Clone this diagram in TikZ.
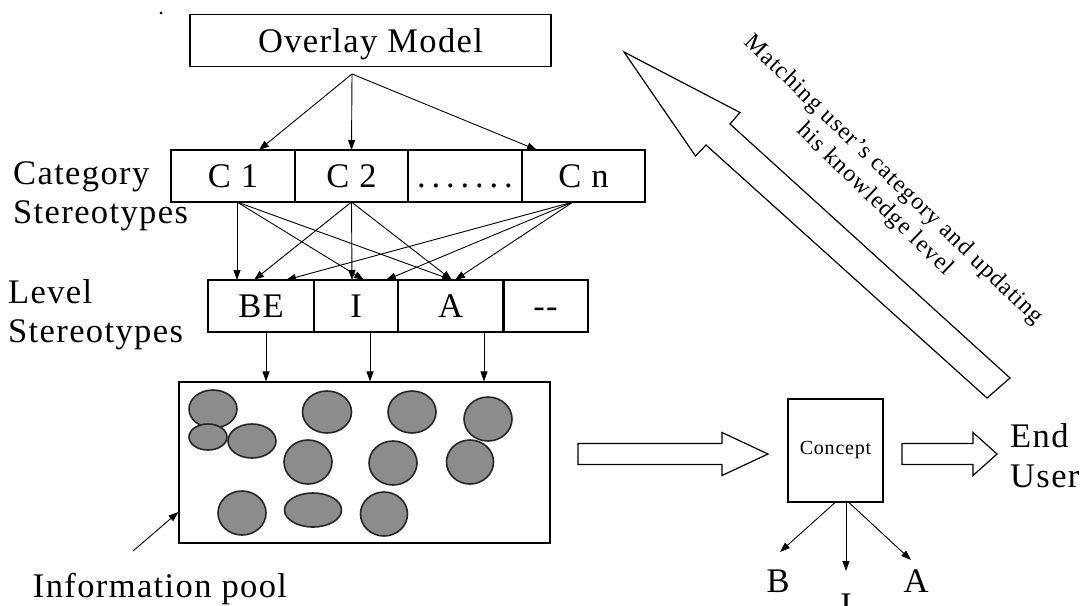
\documentclass[tikz,border=0pt]{standalone}
\usepackage{fontspec}
\setmainfont{Liberation Serif}
\newfontfamily\spaced[LetterSpace=4]{Liberation Serif}
\usetikzlibrary{arrows.meta}

\begin{document}
\begin{tikzpicture}[x=1pt,y=-1pt,
  lbl/.style={font=\spaced\fontsize{34.5}{40}\selectfont, inner sep=0pt},
  cell/.style={draw, line width=1.2pt, inner sep=0pt, outer sep=0pt,
    font=\spaced\fontsize{34.5}{40}\selectfont, text height=23pt, text depth=0pt,
    minimum height=52pt},
  arr/.style={line width=0.9pt, -{Triangle[length=10pt,width=7pt]}},
  blob/.style={draw=black!85, line width=1.6pt, fill=black!45},
  hollow/.style={draw, line width=1.2pt, fill=white, line join=miter},
]
\useasboundingbox (0,0) rectangle (1089,605);

% stray mark at the top
\fill (161,13) circle (1.5pt);

% overlay model and category stereotypes
\node[cell, minimum width=361pt] (ovl) at (370.5,40.5) {Overlay Model};
\node[cell, minimum width=124pt] (c1) at (233,176) {C 1};
\node[cell, minimum width=113pt] (c2) at (351.5,176) {C 2};
\node[cell, minimum width=114pt] (cd) at (465,176) {{\addfontfeature{LetterSpace=17}.......}};
\node[cell, minimum width=123pt] (cn) at (583.5,176) {C n};

% level stereotypes
\node[cell, minimum width=106pt] (be) at (261,306) {BE};
\node[cell, minimum width=84pt] (li) at (356,306) {I};
\node[cell, minimum width=105pt] (la) at (450.5,306) {A};
\node[cell, minimum width=85pt] (ld) at (545.5,306) {-{}-};
\draw[line width=3pt] (la.north east) -- (la.south east);

% side labels
\node[lbl, anchor=base west] (catl) at (13,184) {Category};
\node[lbl, anchor=base west] (stl1) at (13,223) {Stereotypes};
\node[lbl, anchor=base west] (lvl) at (8,303) {Level};
\node[lbl, anchor=base west] (stl2) at (8,342) {Stereotypes};

% information pool
\node[draw, line width=1.2pt, minimum width=371pt, minimum height=161pt, inner sep=0pt] (pool) at (364.5,462.5) {};
\draw[blob] (213,409) ellipse [x radius=24pt, y radius=19pt];
\draw[blob] (208,437) ellipse [x radius=19pt, y radius=13pt];
\draw[blob] (252,441) ellipse [x radius=24pt, y radius=17pt];
\draw[blob] (327,412) ellipse [x radius=24.5pt, y radius=21pt];
\draw[blob] (412,412) ellipse [x radius=24pt, y radius=21pt];
\draw[blob] (488,419) ellipse [x radius=24pt, y radius=22pt];
\draw[blob] (308,462) ellipse [x radius=24pt, y radius=22pt];
\draw[blob] (393,463) ellipse [x radius=24pt, y radius=22pt];
\draw[blob] (470,462) ellipse [x radius=23.5pt, y radius=22pt];
\draw[blob] (242,513) ellipse [x radius=24pt, y radius=22pt];
\draw[blob] (313,510) ellipse [x radius=28.5pt, y radius=17pt];
\draw[blob] (384,514) ellipse [x radius=23.5pt, y radius=22pt];

\node[lbl, anchor=base] (infotxt) at (160,597) {Information pool};
\coordinate (ptail) at (133,551);
\draw[arr] (ptail) -- ([yshift=-49.5pt]pool.west);

% overlay -> categories
\coordinate (ovs) at (352,74);
\draw[arr] (ovs) -- ([xshift=26pt]c1.north);
\draw[arr] (ovs) -- (c2.north);
\draw[arr] (ovs) -- ([xshift=-46.5pt]cn.north);

% categories -> levels
\draw[arr] ([xshift=4pt]c1.south) -- ([xshift=-24pt]be.north);
\draw[arr] ([xshift=4pt]c1.south) -- ([xshift=8pt]li.north);
\draw[arr] ([xshift=4pt]c1.south) -- ([xshift=1.5pt]la.north);
\draw[arr] (c2.south) -- ([xshift=-7pt]be.north);
\draw[arr] (c2.south) -- ([xshift=-4pt]li.north);
\draw[arr] (c2.south) -- ([xshift=1.5pt]la.north);
\draw[arr] ([xshift=-10.5pt]cn.south) -- ([xshift=25pt]be.north);
\draw[arr] ([xshift=-10.5pt]cn.south) -- ([xshift=30pt]li.north);
\draw[arr] ([xshift=-10.5pt]cn.south) -- ([xshift=4.5pt]la.north);

% levels -> pool
\draw[arr] ([xshift=5pt]be.south) -- ([xshift=5pt]be.south |- pool.north);
\draw[arr] ([xshift=14pt]li.south) -- ([xshift=14pt]li.south |- pool.north);
\draw[arr] ([xshift=33.5pt]la.south) -- ([xshift=33.5pt]la.south |- pool.north);

% concept and its outputs
\node[draw, line width=1.2pt, minimum width=95pt, minimum height=103pt, inner sep=0pt,
  font=\spaced\fontsize{20}{24}\selectfont] (con) at (835.5,450.5) {Concept};
\draw[hollow] (578,443.5) -- (722,443.5) -- (722,432.5) -- (768,454) -- (722,475.5) -- (722,464.5) -- (578,464.5) -- cycle;
\draw[hollow] (902,443.5) -- (973,443.5) -- (973,432.5) -- (997,454) -- (973,475.5) -- (973,464.5) -- (902,464.5) -- cycle;
\node[lbl, anchor=base west] (endl) at (1010,447) {End};
\node[lbl, anchor=base west] (userl) at (1010,487) {User};

\node[lbl, anchor=base] (lb) at (778,592) {B};
\node[lbl, anchor=base] (lI) at (846,616) {I};
\node[lbl, anchor=base] (lA) at (916,592) {A};
\coordinate (tb) at (780,552);
\coordinate (ti) at (846,571);
\coordinate (ta) at (911,560);
\draw[arr] ([xshift=-0.5pt]con.south) -- (tb);
\draw[arr] ([xshift=10.5pt]con.south) -- (ti);
\draw[arr] ([xshift=13.5pt]con.south) -- (ta);

% feedback arrow and its caption
\draw[hollow] (624,52) -- (740,112.5) -- (730,124) -- (1010,378) -- (987,398) -- (706,145) -- (695.5,156) -- cycle;
\node[font=\spaced\fontsize{24}{27}\selectfont, align=center, rotate=-44, inner sep=0pt] (note) at (884,190)
  {Matching user’s category and updating\\his knowledge level};
\end{tikzpicture}
\end{document}
